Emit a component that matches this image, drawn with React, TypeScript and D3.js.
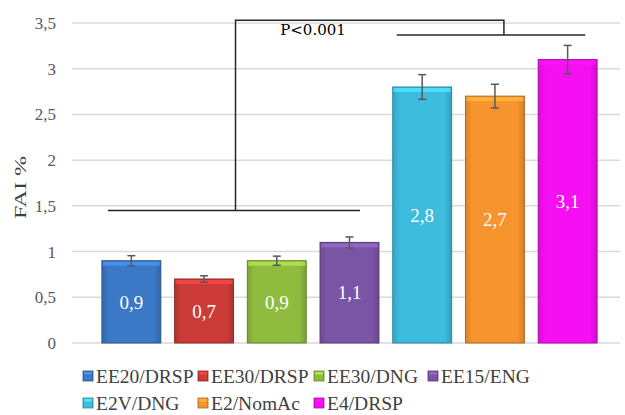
import React from "react";
import * as d3 from "d3";

const groups = ["EE20/DRSP", "EE30/DRSP", "EE30/DNG", "EE15/ENG", "E2V/DNG", "E2/NomAc", "E4/DRSP"];
const values = [0.9, 0.7, 0.9, 1.1, 2.8, 2.7, 3.1];
const errors = [0.055, 0.035, 0.05, 0.06, 0.135, 0.13, 0.155];
const colors = ["#3b78c6", "#cc3b38", "#8fbc3f", "#7b55a5", "#3ebcdd", "#f8942e", "#f50ff2"];
const yTicks = [0, 0.5, 1, 1.5, 2, 2.5, 3, 3.5];

// significance brackets, in data units
const leftGroupLevel = 1.45;
const rightGroupLevel = 3.37;
const topLevel = 3.53;

const W = 625;
const H = 415;
const serif = "Liberation Serif";

const x = d3.scaleBand().domain(groups).range([95, 604]).paddingInner(0.19).paddingOuter(0.095);
const y = d3.scaleLinear().domain([0, 3.5]).range([343, 23]);
const fmt = (v: number) => String(v).replace(".", ",");
const dark = (c: string, k: number) => d3.color(c)!.darker(k).formatHex();
const light = (c: string, k: number) => d3.color(c)!.brighter(k).formatHex();

export default function App() {
  const bw = x.bandwidth();
  const cx = (d: string) => x(d)! + bw / 2;

  const leftX1 = x(groups[0])! + 6;
  const leftX2 = x(groups[3])! + 40;
  const leftMid = x(groups[1])! + bw + 2;
  const rightX1 = x(groups[4])! + 4;
  const rightX2 = x(groups[6])! + 47;
  const rightMid = x(groups[5])! + bw / 2 + 9;

  const cols = [83, 198, 314, 428];

  return (
    <div style={{ position: "absolute", left: 0, top: 0 }}>
      <svg width={W} height={H} style={{ display: "block", background: "#fff" }}>
        <defs>
          {colors.map((c, i) => (
            <linearGradient key={i} id={"bar" + i} x1="0%" x2="100%">
              <stop offset="0%" stopColor={dark(c, 0.35)} />
              <stop offset="12%" stopColor={c} />
              <stop offset="88%" stopColor={c} />
              <stop offset="100%" stopColor={dark(c, 0.45)} />
            </linearGradient>
          ))}
        </defs>

        {/* grid */}
        {yTicks.map((t) => (
          <line key={t} x1={72} x2={620} y1={y(t)} y2={y(t)} stroke="#d9d9d9" strokeWidth={1.5} />
        ))}
        <g fontFamily={serif} fontSize={17} fill="#595959" textAnchor="end">
          {yTicks.map((t) => (
            <text key={t} x={56} y={y(t)} dy="0.35em">{fmt(t)}</text>
          ))}
        </g>
        <text
          transform={`translate(26,${y(1.7)}) rotate(-90)`}
          textAnchor="middle"
          fontFamily={serif}
          fontSize={16}
          fill="#404040"
          textLength={63}
          lengthAdjust="spacingAndGlyphs"
        >
          FAI %
        </text>

        {/* bars */}
        {groups.map((g, i) => (
          <g key={g}>
            <rect
              x={x(g)}
              y={y(values[i])}
              width={bw}
              height={y(0) - y(values[i])}
              fill={`url(#bar${i})`}
              stroke={dark(colors[i], 1)}
              strokeWidth={1}
            />
            <rect x={x(g)! + 1} y={y(values[i]) + 1} width={bw - 2} height={4} fill={light(colors[i], 0.6)} opacity={0.8} />
            <text
              x={cx(g)}
              y={(y(values[i]) + y(0)) / 2}
              dy="0.35em"
              textAnchor="middle"
              fontFamily={serif}
              fontSize={19}
              fill="#fff"
            >
              {fmt(values[i])}
            </text>
            <g stroke="#595959" strokeWidth={1.5}>
              <line x1={cx(g)} x2={cx(g)} y1={y(values[i] + errors[i])} y2={y(values[i] - errors[i])} />
              <line x1={cx(g) - 4} x2={cx(g) + 4} y1={y(values[i] + errors[i])} y2={y(values[i] + errors[i])} />
              <line x1={cx(g) - 4} x2={cx(g) + 4} y1={y(values[i] - errors[i])} y2={y(values[i] - errors[i])} />
            </g>
          </g>
        ))}

        {/* significance bracket */}
        <g stroke="#262626" strokeWidth={1.5} fill="none">
          <line x1={leftX1} x2={leftX2} y1={y(leftGroupLevel)} y2={y(leftGroupLevel)} />
          <line x1={rightX1} x2={rightX2} y1={y(rightGroupLevel)} y2={y(rightGroupLevel)} />
          <path d={`M${leftMid},${y(leftGroupLevel)}V${y(topLevel)}H${rightMid}V${y(rightGroupLevel)}`} />
        </g>
        <text x={313} y={y(rightGroupLevel)} textAnchor="middle" fontFamily="DejaVu Serif" fontSize={15} fill="#000">
          P&lt;0.001
        </text>

        {/* legend */}
        {groups.map((g, i) => (
          <g key={g} transform={`translate(${cols[i % 4]},${i < 4 ? 376 : 403})`}>
            <rect x={0} y={-5} width={10} height={10} fill={`url(#bar${i})`} stroke={dark(colors[i], 1)} strokeWidth={0.8} />
            <rect x={1} y={-4} width={8} height={2.5} fill={light(colors[i], 0.7)} opacity={0.8} />
            <text x={13} dy="0.35em" fontFamily={serif} fontSize={19.5} fill="#404040">
              {g}
            </text>
          </g>
        ))}
      </svg>
    </div>
  );
}
